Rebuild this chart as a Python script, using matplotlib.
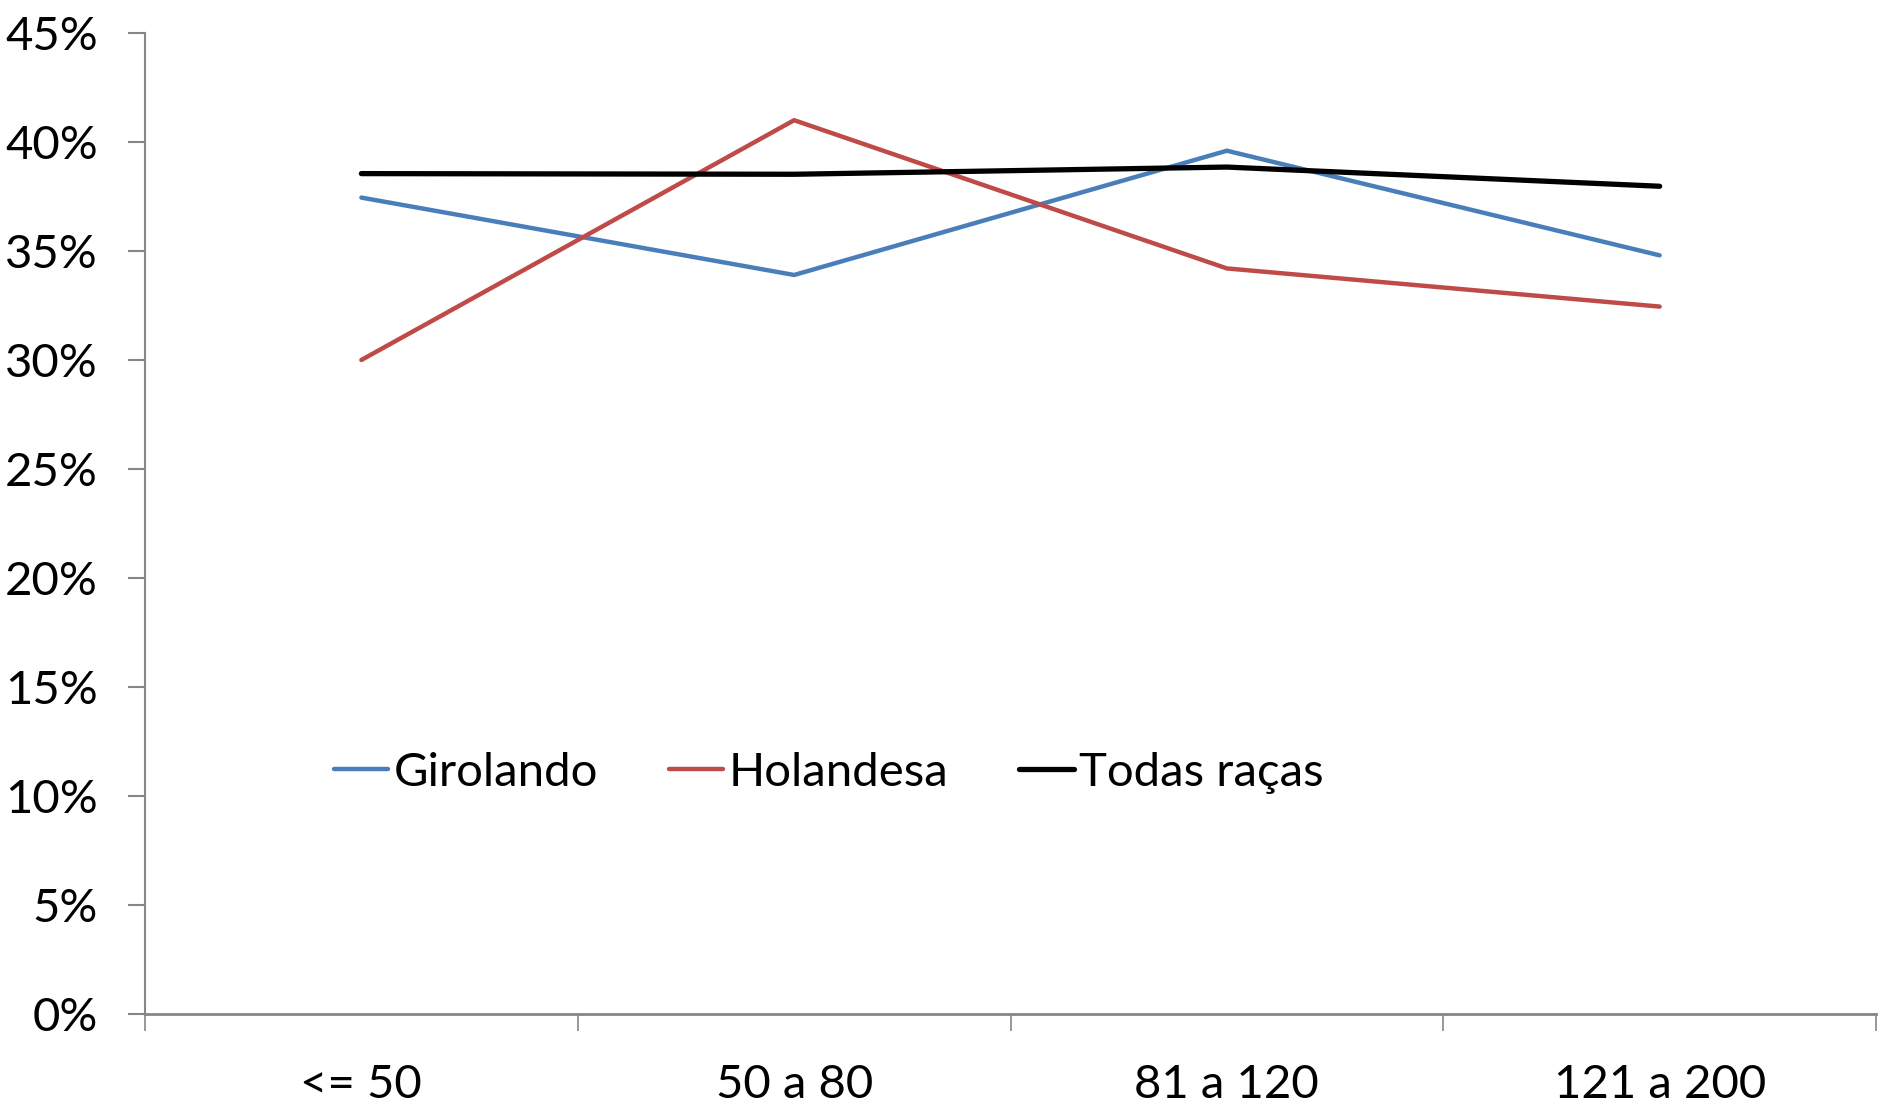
import numpy as np
import matplotlib
matplotlib.use("Agg")
import matplotlib.pyplot as plt
from matplotlib.ticker import FuncFormatter, FixedLocator

plt.rcParams['font.family'] = ['Lato', 'DejaVu Sans']

# dados
categorias = ["<= 50", "50 a 80", "81 a 120", "121 a 200"]
girolando = [37.45, 33.9, 39.6, 34.8]
holandesa = [30.0, 41.0, 34.2, 32.45]
todas_racas = [38.55, 38.52, 38.85, 37.97]

cor_axis = "#868686"

fig = plt.figure(figsize=(18.78, 11.07), dpi=100)
ax = fig.add_axes([145 / 1878, 1 - 1014 / 1107, 1731 / 1878, 981 / 1107])

x = np.arange(len(categorias)) + 0.5
ax.plot(x, np.array(girolando) / 100, color="#4a7ebb", lw=3.2, label="Girolando",
        solid_capstyle="round")
ax.plot(x, np.array(holandesa) / 100, color="#be4b48", lw=3.2, label="Holandesa",
        solid_capstyle="round")
ax.plot(x, np.array(todas_racas) / 100, color="black", lw=3.8, label="Todas raças",
        solid_capstyle="round")

ax.set_xlim(0, len(categorias))
ax.set_ylim(0, 0.45)

ax.yaxis.set_major_locator(FixedLocator(np.arange(0, 0.451, 0.05)))
ax.yaxis.set_major_formatter(FuncFormatter(lambda v, p: "{:.0f}%".format(v * 100)))

ax.set_xticks(np.arange(len(categorias) + 1))
ax.set_xticklabels([])
ax.set_xticks(x, minor=True)
ax.set_xticklabels(categorias, minor=True)

ax.tick_params(axis="y", which="major", length=12, width=1.5, color=cor_axis,
               labelsize=34, pad=22)
ax.tick_params(axis="x", which="major", length=12, width=1.2, color=cor_axis)
ax.tick_params(axis="x", which="minor", length=0, labelsize=34, pad=36)

for s in ["top", "right"]:
    ax.spines[s].set_visible(False)
ax.spines["left"].set_color(cor_axis)
ax.spines["left"].set_linewidth(1.5)
ax.spines["bottom"].set_color(cor_axis)
ax.spines["bottom"].set_linewidth(2)

ax.legend(loc="center", bbox_to_anchor=(0.395, 0.246), ncol=3, frameon=False,
          fontsize=34, handlelength=1.15, handletextpad=0.12, columnspacing=1.5)

fig.savefig("out.png", dpi=100)
